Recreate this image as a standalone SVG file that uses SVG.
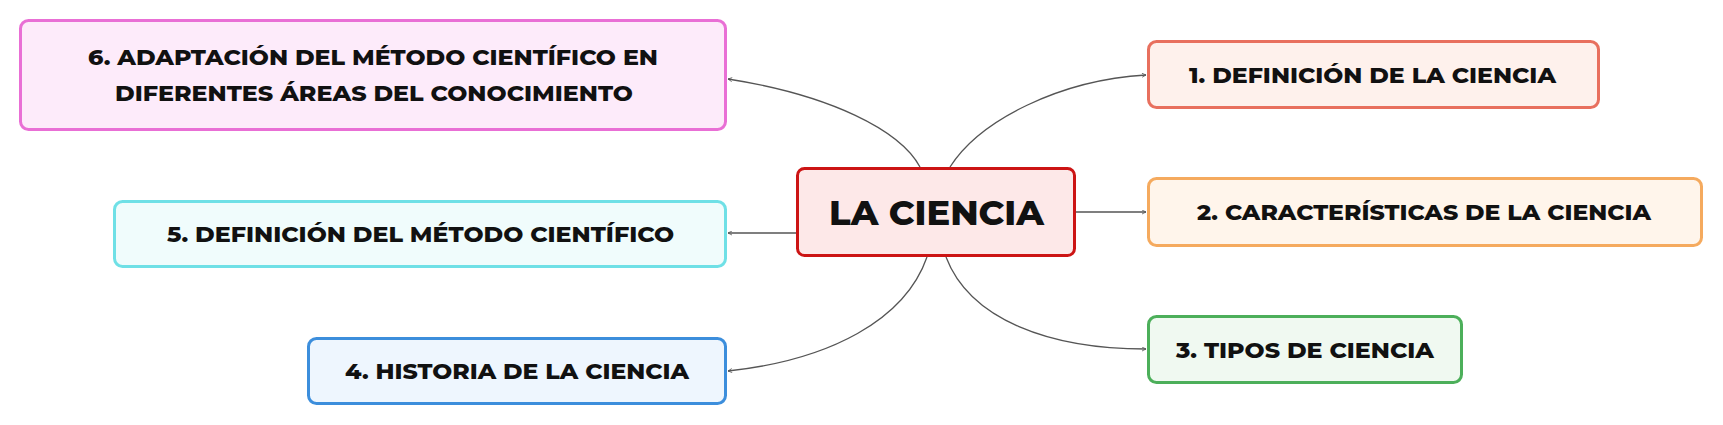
<svg xmlns="http://www.w3.org/2000/svg" width="1723" height="425" viewBox="0 0 1723 425">
<defs>
<marker id="arr" viewBox="0 0 10 10" refX="9" refY="5" markerWidth="5" markerHeight="5" orient="auto" markerUnits="userSpaceOnUse">
<path d="M1,1 L9,5 L1,9" fill="none" stroke="#555" stroke-width="1.6"/>
</marker>
<style>
.node text{font-family:Montserrat,"Open Sans","Liberation Sans",sans-serif;font-weight:800;fill:#111;text-anchor:middle;font-size:22px}
.box{stroke-width:3}
.conn path{fill:none;stroke:#555;stroke-width:1.3;marker-end:url(#arr)}
</style>
</defs>
<rect width="1723" height="425" fill="#fff"/>
<g id="connectors" class="conn">
<path d="M950,167 C980,120 1060,80 1146,75"/>
<path d="M1076,212 L1146,212"/>
<path d="M946,257 C970,320 1050,349 1146,349"/>
<path d="M927,257 C905,320 830,360 728,371"/>
<path d="M796,233 L728,233"/>
<path d="M920,167 C900,130 830,95 728,79"/>
</g>
<g id="center" class="node">
<rect class="box" x="797.5" y="168.5" width="277" height="87" rx="7" fill="#FDE8E8" stroke="#CC1414"/>
<text x="936.5" y="225" textLength="215" lengthAdjust="spacingAndGlyphs" style="font-size:35px">LA CIENCIA</text>
</g>
<g id="n1" class="node">
<rect class="box" x="1148.5" y="41.5" width="450" height="66" rx="8" fill="#FEF1EC" stroke="#E8705E"/>
<text x="1372.5" y="83" textLength="367" lengthAdjust="spacingAndGlyphs">1. DEFINICIÓN DE LA CIENCIA</text>
</g>
<g id="n2" class="node">
<rect class="box" x="1148.5" y="178.5" width="553" height="67" rx="8" fill="#FFF5EB" stroke="#F5AA5E"/>
<text x="1424" y="220" textLength="454" lengthAdjust="spacingAndGlyphs">2. CARACTERÍSTICAS DE LA CIENCIA</text>
</g>
<g id="n3" class="node">
<rect class="box" x="1148.5" y="316.5" width="313" height="66" rx="8" fill="#F0F9F1" stroke="#4CAF5A"/>
<text x="1305" y="357.5" textLength="258" lengthAdjust="spacingAndGlyphs">3. TIPOS DE CIENCIA</text>
</g>
<g id="n4" class="node">
<rect class="box" x="308.5" y="338.5" width="417" height="65" rx="8" fill="#EEF6FE" stroke="#3C8EDC"/>
<text x="517" y="379" textLength="344" lengthAdjust="spacingAndGlyphs">4. HISTORIA DE LA CIENCIA</text>
</g>
<g id="n5" class="node">
<rect class="box" x="114.5" y="201.5" width="611" height="65" rx="8" fill="#F0FCFC" stroke="#6FE0E6"/>
<text x="420.5" y="241.5" textLength="507" lengthAdjust="spacingAndGlyphs">5. DEFINICIÓN DEL MÉTODO CIENTÍFICO</text>
</g>
<g id="n6" class="node">
<rect class="box" x="20.5" y="20.5" width="705" height="109" rx="8" fill="#FDEBFA" stroke="#E96FD5"/>
<text x="373" y="65" textLength="570" lengthAdjust="spacingAndGlyphs">6. ADAPTACIÓN DEL MÉTODO CIENTÍFICO EN</text>
<text x="374" y="101" textLength="518" lengthAdjust="spacingAndGlyphs">DIFERENTES ÁREAS DEL CONOCIMIENTO</text>
</g>
</svg>
